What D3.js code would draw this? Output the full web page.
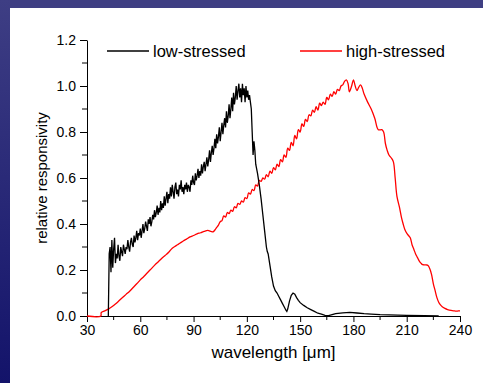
<!DOCTYPE html>
<html>
<head>
<meta charset="utf-8">
<script src="https://cdnjs.cloudflare.com/ajax/libs/d3/7.8.5/d3.min.js"></script>
<style>
  body { margin: 0; background: #fff; }
  svg { display: block; font-family: "Liberation Sans", Arial, sans-serif; }
</style>
</head>
<body>
<div id="viz-wrapper"></div>
<script>
  // size of the picture
  var width = 483,
      height = 383;

  // plot area (pixel edges)
  var plotLeft = 87, plotRight = 460, plotTop = 40, plotBottom = 316;

  // low-stressed detector: noisy part sampled every 0.5 um from 42.5 um
  var lowNoisyStart = 42.5, lowNoisyStep = 0.5;
  var lowNoisy = [
    0.27, 0.30, 0.19, 0.33, 0.21, 0.29, 0.34, 0.23, 0.27, 0.25,   // 42.5 - 47
    0.31, 0.26, 0.24, 0.30, 0.28, 0.26, 0.31, 0.29, 0.27, 0.30,   // 47.5 - 52
    0.29, 0.33, 0.30, 0.28, 0.32, 0.34, 0.31, 0.30, 0.35, 0.32,   // 52.5 - 57
    0.34, 0.37, 0.33, 0.36, 0.35, 0.38, 0.34, 0.37, 0.40, 0.36,   // 57.5 - 62
    0.38, 0.41, 0.39, 0.37, 0.42, 0.40, 0.43, 0.39, 0.41, 0.44,   // 62.5 - 67
    0.42, 0.46, 0.43, 0.45, 0.48, 0.44, 0.47, 0.45, 0.50, 0.46,   // 67.5 - 72
    0.49, 0.47, 0.52, 0.48, 0.51, 0.54, 0.49, 0.53, 0.51, 0.56,   // 72.5 - 77
    0.52, 0.57, 0.54, 0.51, 0.56, 0.58, 0.53, 0.55, 0.52, 0.57,   // 77.5 - 82
    0.55, 0.59, 0.54, 0.56, 0.53, 0.57, 0.55, 0.58, 0.54, 0.57,   // 82.5 - 87
    0.56, 0.54, 0.59, 0.57, 0.61, 0.58, 0.57, 0.62, 0.59, 0.61,   // 87.5 - 92
    0.64, 0.60, 0.63, 0.61, 0.66, 0.62, 0.65, 0.67, 0.63, 0.66,   // 92.5 - 97
    0.69, 0.65, 0.68, 0.72, 0.67, 0.71, 0.74, 0.70, 0.73, 0.77,   // 97.5 - 102
    0.73, 0.79, 0.75, 0.78, 0.82, 0.76, 0.80, 0.84, 0.79, 0.83,   // 102.5 - 107
    0.86, 0.82, 0.89, 0.84, 0.87, 0.92, 0.86, 0.90, 0.95, 0.89,   // 107.5 - 112
    0.97, 0.92, 0.95, 1.00, 0.94, 0.98, 1.01, 0.95, 0.99, 0.93,   // 112.5 - 117
    1.01, 0.96, 0.99, 0.93, 1.00, 0.95, 0.98, 0.94, 0.96, 0.93    // 117.5 - 122
  ];
  // low-stressed: falling tail
  var lowTailX = [122.5, 123, 123.5, 124, 124.5, 125, 126, 127, 128, 129, 130, 131, 131.5, 132, 133, 134, 135, 136, 137, 138, 139, 140, 141, 142, 142.5, 143, 144, 145, 146, 147, 148, 149, 150, 152, 154, 156, 158, 160, 162, 164, 166, 168, 170, 174, 178, 182, 186, 190, 195, 200, 210, 220, 228];
  var lowTailY = [0.90, 0.80, 0.70, 0.76, 0.72, 0.66, 0.62, 0.57, 0.51, 0.44, 0.37, 0.30, 0.28, 0.27, 0.22, 0.17, 0.13, 0.11, 0.10, 0.085, 0.07, 0.055, 0.04, 0.025, 0.02, 0.03, 0.065, 0.09, 0.10, 0.095, 0.08, 0.068, 0.058, 0.046, 0.036, 0.028, 0.02, 0.012, 0.008, 0.003, 0.002, 0.006, 0.01, 0.014, 0.016, 0.013, 0.01, 0.008, 0.006, 0.005, 0.003, 0.002, 0.0];

  // high-stressed detector
  var highX = [30, 37.8, 38, 40, 42, 44, 46, 48, 50, 52, 54, 56, 58, 60, 62, 64, 66, 68, 70, 72, 74, 76, 78, 80, 81, 82, 84, 85, 86, 88, 90, 92, 94, 96, 98, 100, 101, 102, 103,
    104, 105, 106, 107, 108, 109, 110, 111, 112, 113, 114, 115, 116, 117, 118, 119, 120, 121, 122, 123, 124, 125, 126, 127, 128, 129, 130, 131, 132, 133, 134, 135, 136, 137, 138, 139, 140,
    141, 142, 143, 144, 145, 146, 147, 148, 149, 150, 151, 152, 153, 154, 155, 156, 157, 158, 159, 160, 161, 162, 163, 164, 165, 166, 167, 168, 169, 170, 171, 172, 173, 174, 175, 176,
    177, 177.7, 179, 180, 181, 182, 183, 184, 185, 186, 188, 190, 192, 194, 196, 197, 198, 199, 200, 201.5, 202.5, 203.5, 204.5, 206, 207, 208, 209, 210, 211, 212, 213, 214, 215, 216, 217,
    218, 219, 221, 222, 223, 224, 225, 226, 227, 228, 229, 230, 231.5, 233, 235, 237, 238, 239, 240];
  var highY = [0, 0, 0.015, 0.022, 0.03, 0.04, 0.052, 0.066, 0.08, 0.094, 0.108, 0.124, 0.14, 0.157, 0.172, 0.188, 0.204, 0.22, 0.235, 0.25, 0.263, 0.277, 0.295, 0.305, 0.31, 0.315, 0.325, 0.33, 0.334, 0.344, 0.35, 0.357, 0.362, 0.368, 0.372, 0.367, 0.366, 0.374, 0.385,
    0.395, 0.41, 0.415, 0.435, 0.43, 0.45, 0.445, 0.46, 0.455, 0.475, 0.47, 0.49, 0.485, 0.50, 0.495, 0.515, 0.51, 0.535, 0.53, 0.55, 0.545, 0.57, 0.565, 0.59, 0.585, 0.60, 0.595, 0.615, 0.605, 0.63, 0.62, 0.645, 0.635, 0.66, 0.65, 0.68, 0.67,
    0.70, 0.69, 0.73, 0.72, 0.755, 0.74, 0.785, 0.77, 0.81, 0.80, 0.835, 0.825, 0.855, 0.845, 0.875, 0.87, 0.895, 0.885, 0.91, 0.895, 0.925, 0.915, 0.93, 0.92, 0.95, 0.94, 0.965, 0.955, 0.975, 0.965, 0.985, 0.98, 1.0, 1.005, 1.02, 1.027,
    1.01, 0.975, 1.0, 1.027, 1.0, 0.98, 0.995, 1.005, 0.99, 0.965, 0.93, 0.90, 0.86, 0.81, 0.81, 0.80, 0.75, 0.72, 0.70, 0.685, 0.67, 0.60, 0.52, 0.47, 0.43, 0.40, 0.375, 0.36, 0.35, 0.34, 0.31, 0.29, 0.27, 0.255, 0.24,
    0.23, 0.223, 0.222, 0.22, 0.205, 0.18, 0.14, 0.11, 0.08, 0.06, 0.048, 0.04, 0.033, 0.028, 0.024, 0.022, 0.021, 0.022, 0.022];

  // axis ticks
  var xTicks = [30, 60, 90, 120, 150, 180, 210, 240];
  var xMinor = [45, 75, 105, 135, 165, 195, 225];
  var yTicks = [0, 0.2, 0.4, 0.6, 0.8, 1.0, 1.2];
  var yMinor = [0.1, 0.3, 0.5, 0.7, 0.9, 1.1];

  var seriesNames = ["low-stressed", "high-stressed"];
  var seriesColors = ["#000000", "#ff0000"];

  // build point lists
  var lowData = [[42, 0]];
  lowNoisy.forEach(function(v, i) { lowData.push([lowNoisyStart + i * lowNoisyStep, v]); });
  lowTailX.forEach(function(w, i) { lowData.push([w, lowTailY[i]]); });
  var highData = highX.map(function(w, i) { return [w, highY[i]]; });

  var svg = d3.select("#viz-wrapper")
              .append('svg')
              .attr('width', width)
              .attr('height', height);

  // dark blue frame on top and left
  var grad = svg.append('defs').append('linearGradient')
      .attr('id', 'side').attr('x1', 0).attr('y1', 0).attr('x2', 0).attr('y2', 1);
  grad.append('stop').attr('offset', 0).attr('stop-color', '#3e3e84');
  grad.append('stop').attr('offset', 1).attr('stop-color', '#13136a');

  svg.append('rect').attr('x', 0).attr('y', 0).attr('width', width).attr('height', height).attr('fill', '#fff');
  svg.append('rect').attr('x', 0).attr('y', 0).attr('width', width).attr('height', 8).attr('fill', '#3f3f83');
  svg.append('rect').attr('x', 0).attr('y', 0).attr('width', 10).attr('height', height).attr('fill', 'url(#side)');

  var x = d3.scaleLinear().domain([30, 240]).range([plotLeft, plotRight]);
  var y = d3.scaleLinear().domain([0, 1.2]).range([plotBottom, plotTop]);

  // axes
  var xAxis = svg.append('g')
      .attr('transform', 'translate(0,' + plotBottom + ')')
      .call(d3.axisBottom(x).tickValues(xTicks).tickSize(6).tickSizeOuter(0).tickPadding(3));
  xAxis.selectAll('.minor').data(xMinor).enter().append('line')
      .attr('x1', x).attr('x2', x).attr('y1', 0).attr('y2', 4).attr('stroke', '#000');

  var yAxis = svg.append('g')
      .attr('transform', 'translate(' + plotLeft + ',0)')
      .call(d3.axisLeft(y).tickValues(yTicks).tickFormat(d3.format('.1f')).tickSize(7).tickSizeOuter(0).tickPadding(4));
  yAxis.selectAll('.minor').data(yMinor).enter().append('line')
      .attr('y1', y).attr('y2', y).attr('x1', 0).attr('x2', -5).attr('stroke', '#000');

  svg.selectAll('.tick text').attr('font-size', 14).attr('fill', '#000')
      .attr('font-family', '"Liberation Sans", Arial, sans-serif');
  svg.selectAll('.domain, .tick line').attr('stroke', '#000');

  // axis titles
  svg.append('text')
      .attr('x', (plotLeft + plotRight) / 2).attr('y', 358)
      .attr('text-anchor', 'middle').attr('font-size', 17)
      .text('wavelength [\u03bcm]');
  svg.append('text')
      .attr('transform', 'translate(47,' + ((plotTop + plotBottom) / 2) + ') rotate(-90)')
      .attr('text-anchor', 'middle').attr('font-size', 15)
      .text('relative responsivity');

  // curves
  var line = d3.line()
      .x(function(d) { return x(d[0]); })
      .y(function(d) { return y(d[1]); });

  svg.append('path').datum(highData)
      .attr('d', line.curve(d3.curveCatmullRom.alpha(0.5)))
      .attr('fill', 'none').attr('stroke', seriesColors[1]).attr('stroke-width', 1.3);
  svg.append('path').datum(lowData)
      .attr('d', line.curve(d3.curveLinear))
      .attr('fill', 'none').attr('stroke', seriesColors[0]).attr('stroke-width', 1.3);

  // legend
  var legendX = [107, 300];
  seriesNames.forEach(function(name, i) {
    svg.append('line')
        .attr('x1', legendX[i]).attr('x2', legendX[i] + 42)
        .attr('y1', 51).attr('y2', 51)
        .attr('stroke', seriesColors[i]).attr('stroke-width', 1.3);
    svg.append('text')
        .attr('x', legendX[i] + 46).attr('y', 56.5)
        .attr('font-size', 16.5)
        .text(name);
  });
</script>
</body>
</html>
